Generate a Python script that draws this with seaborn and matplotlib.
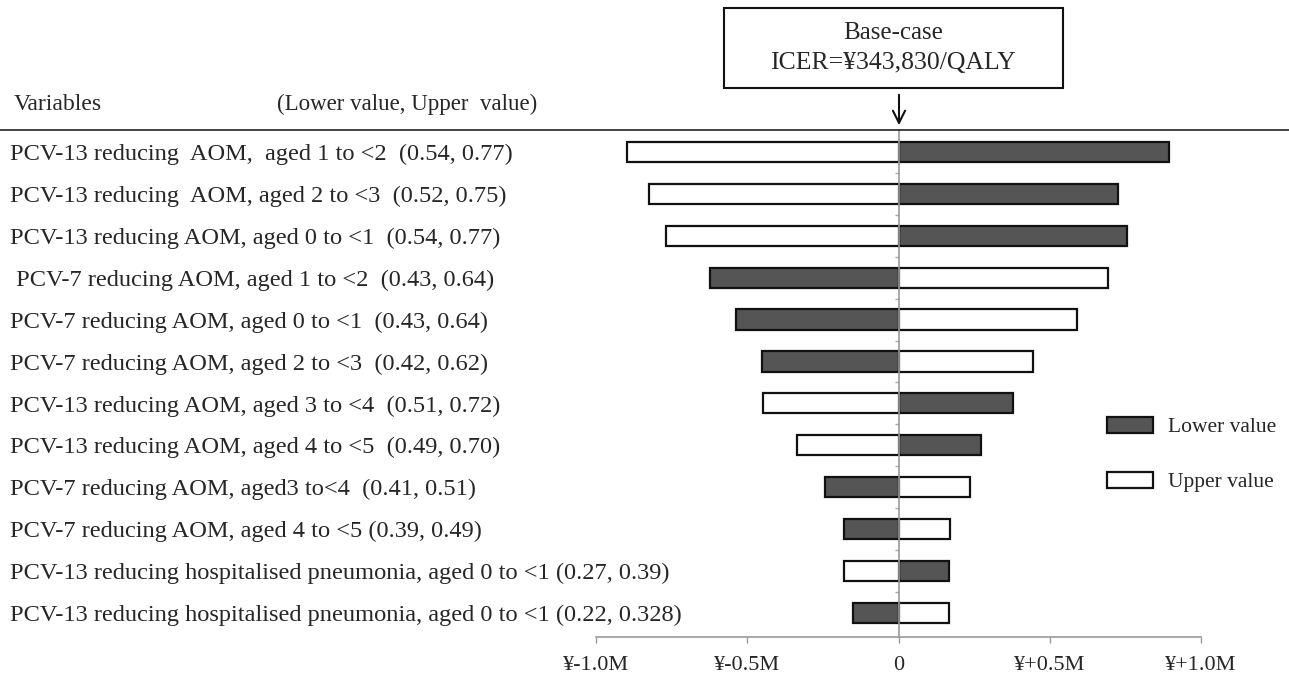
import pandas as pd
import matplotlib.pyplot as plt
import matplotlib.patches as mpatches
from matplotlib.lines import Line2D
import seaborn as sns

# tornado diagram data: change of ICER (million yen) at each bound
variables = [
    "PCV-13 reducing  AOM,  aged 1 to <2  (0.54, 0.77)",
    "PCV-13 reducing  AOM, aged 2 to <3  (0.52, 0.75)",
    "PCV-13 reducing AOM, aged 0 to <1  (0.54, 0.77)",
    " PCV-7 reducing AOM, aged 1 to <2  (0.43, 0.64)",
    "PCV-7 reducing AOM, aged 0 to <1  (0.43, 0.64)",
    "PCV-7 reducing AOM, aged 2 to <3  (0.42, 0.62)",
    "PCV-13 reducing AOM, aged 3 to <4  (0.51, 0.72)",
    "PCV-13 reducing AOM, aged 4 to <5  (0.49, 0.70)",
    "PCV-7 reducing AOM, aged3 to<4  (0.41, 0.51)",
    "PCV-7 reducing AOM, aged 4 to <5 (0.39, 0.49)",
    "PCV-13 reducing hospitalised pneumonia, aged 0 to <1 (0.27, 0.39)",
    "PCV-13 reducing hospitalised pneumonia, aged 0 to <1 (0.22, 0.328)",
]
lower_change = [0.894, 0.725, 0.755, -0.623, -0.536, -0.450, 0.377, 0.272, -0.242, -0.179, 0.166, -0.149]
upper_change = [-0.897, -0.824, -0.768, 0.692, 0.589, 0.444, -0.447, -0.334, 0.235, 0.169, -0.179, 0.166]
bounds = ["Lower value", "Upper value"]
xticks = [-1.0, -0.5, 0, 0.5, 1.0]
xticklabels = ["¥-1.0M", "¥-0.5M", "0", "¥+0.5M", "¥+1.0M"]

df = pd.DataFrame({
    "variable": variables * 2,
    "bound": [bounds[0]] * len(variables) + [bounds[1]] * len(variables),
    "change": lower_change + upper_change,
})

sns.set_style("white")
plt.rcParams["font.family"] = ["Liberation Serif", "DejaVu Serif"]

W, H = 1289, 692
fig = plt.figure(figsize=(W / 100, H / 100), dpi=100)
ax = fig.add_axes([596 / W, 1 - 637 / H, 605 / W, (637 - 130) / H])

sns.barplot(data=df, y="variable", x="change", hue="bound", hue_order=bounds,
            order=variables, dodge=False, orient="h", width=0.48, saturation=1,
            palette={"Lower value": "#555555", "Upper value": "white"},
            edgecolor="#111111", linewidth=1.6, errorbar=None, legend=False, ax=ax)

ax.set_xlim(-1.0, 1.0)
ax.set_ylim(len(variables) - 1 + 0.57, -0.52)
ax.set_xlabel("")
ax.set_ylabel("")

for s in ["top", "right"]:
    ax.spines[s].set_visible(False)
ax.spines["left"].set_position(("data", 0))
ax.spines["left"].set_color("#999999")
ax.spines["left"].set_linewidth(1.2)
ax.spines["bottom"].set_color("#999999")
ax.spines["bottom"].set_linewidth(1.2)

ax.set_xticks(xticks)
ax.set_xticklabels(xticklabels, fontsize=16)
ax.tick_params(axis="x", direction="out", length=4, width=1, color="#999999", pad=10, bottom=True)

# labels on the left, left aligned near the figure edge
ax.tick_params(axis="y", which="major", length=0, pad=(898.5 - 10) * 0.72, labelsize=17.6)
for t in ax.get_yticklabels():
    t.set_ha("left")
ax.set_yticks([i + 0.5 for i in range(len(variables) - 1)], minor=True)
ax.tick_params(axis="y", which="minor", direction="out", length=3, width=1, color="#aaaaaa", left=True)

# header
fig.add_artist(Line2D([0, 1], [1 - 130 / H, 1 - 130 / H], color="#222222", lw=1.2))
fig.text(14 / W, 1 - 104 / H, "Variables", fontsize=17, va="center", ha="left")
fig.text(277 / W, 1 - 104 / H, "(Lower value, Upper  value)", fontsize=16.5, va="center", ha="left")

# base-case box and arrow
fig.add_artist(mpatches.Rectangle((724 / W, 1 - 88 / H), 339 / W, 80 / H, transform=fig.transFigure,
                                  facecolor="white", edgecolor="#111111", lw=1.5))
fig.text(893 / W, 1 - 33 / H, "Base-case", fontsize=18, ha="center", va="center")
fig.text(893 / W, 1 - 63 / H, "ICER=¥343,830/QALY", fontsize=18.5, ha="center", va="center")
ax.annotate("", xy=(899 / W, 1 - 128 / H), xytext=(899 / W, 1 - 92 / H), xycoords="figure fraction",
            textcoords="figure fraction",
            arrowprops=dict(arrowstyle="->", lw=1.5, color="#111111", mutation_scale=22))

ax.legend(handles=ax.containers, labels=bounds, loc="upper left", frameon=False,
          bbox_to_anchor=(1107 / W, 1 - 417 / H), bbox_transform=fig.transFigure,
          borderpad=0, borderaxespad=0, fontsize=15.5, handlelength=2.15, handleheight=0.75,
          labelspacing=1.6, handletextpad=0.7)

fig.savefig("out.png", dpi=100)
